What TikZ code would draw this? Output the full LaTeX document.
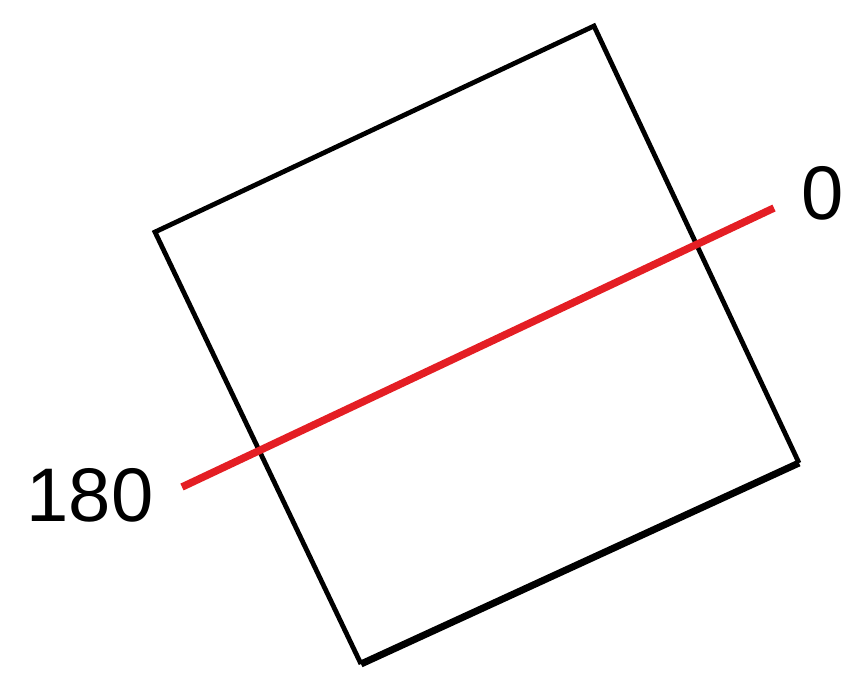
\documentclass[tikz,border=0pt]{standalone}
\usepackage{fontspec}
\setmainfont{Liberation Sans}
\usepackage{xcolor}
\usetikzlibrary{positioning,calc}

\definecolor{axisred}{RGB}{228,30,36}

\begin{document}
\begin{tikzpicture}[x=1pt,y=-1pt]
    \useasboundingbox (0,0) rectangle (861,672);
    \tikzset{
        edge/.style={draw=black, line width=4.8pt, line join=miter},
        axis/.style={draw=axisred, line width=7.5pt},
        angle/.style={inner sep=0pt, font=\fontsize{76}{80}\selectfont}
    }
    % corners of the tilted square
    \coordinate (nw) at (155,232);
    \coordinate (ne) at (594,26);
    \coordinate (se) at (799,463);
    \coordinate (sw) at (361,664);
    \draw[edge] (se) -- (ne) -- (nw) -- (sw);
    \draw[edge, line width=7pt] (sw) -- (se);

    % axis through the square
    \coordinate (a180) at (182,487);
    \coordinate (a0) at (774,208);
    \draw[axis] (a180) -- (a0);

    \node[angle] (l180) at (90,495) {180};
    \node[angle] (l0) at (823,193) {0};
\end{tikzpicture}
\end{document}
